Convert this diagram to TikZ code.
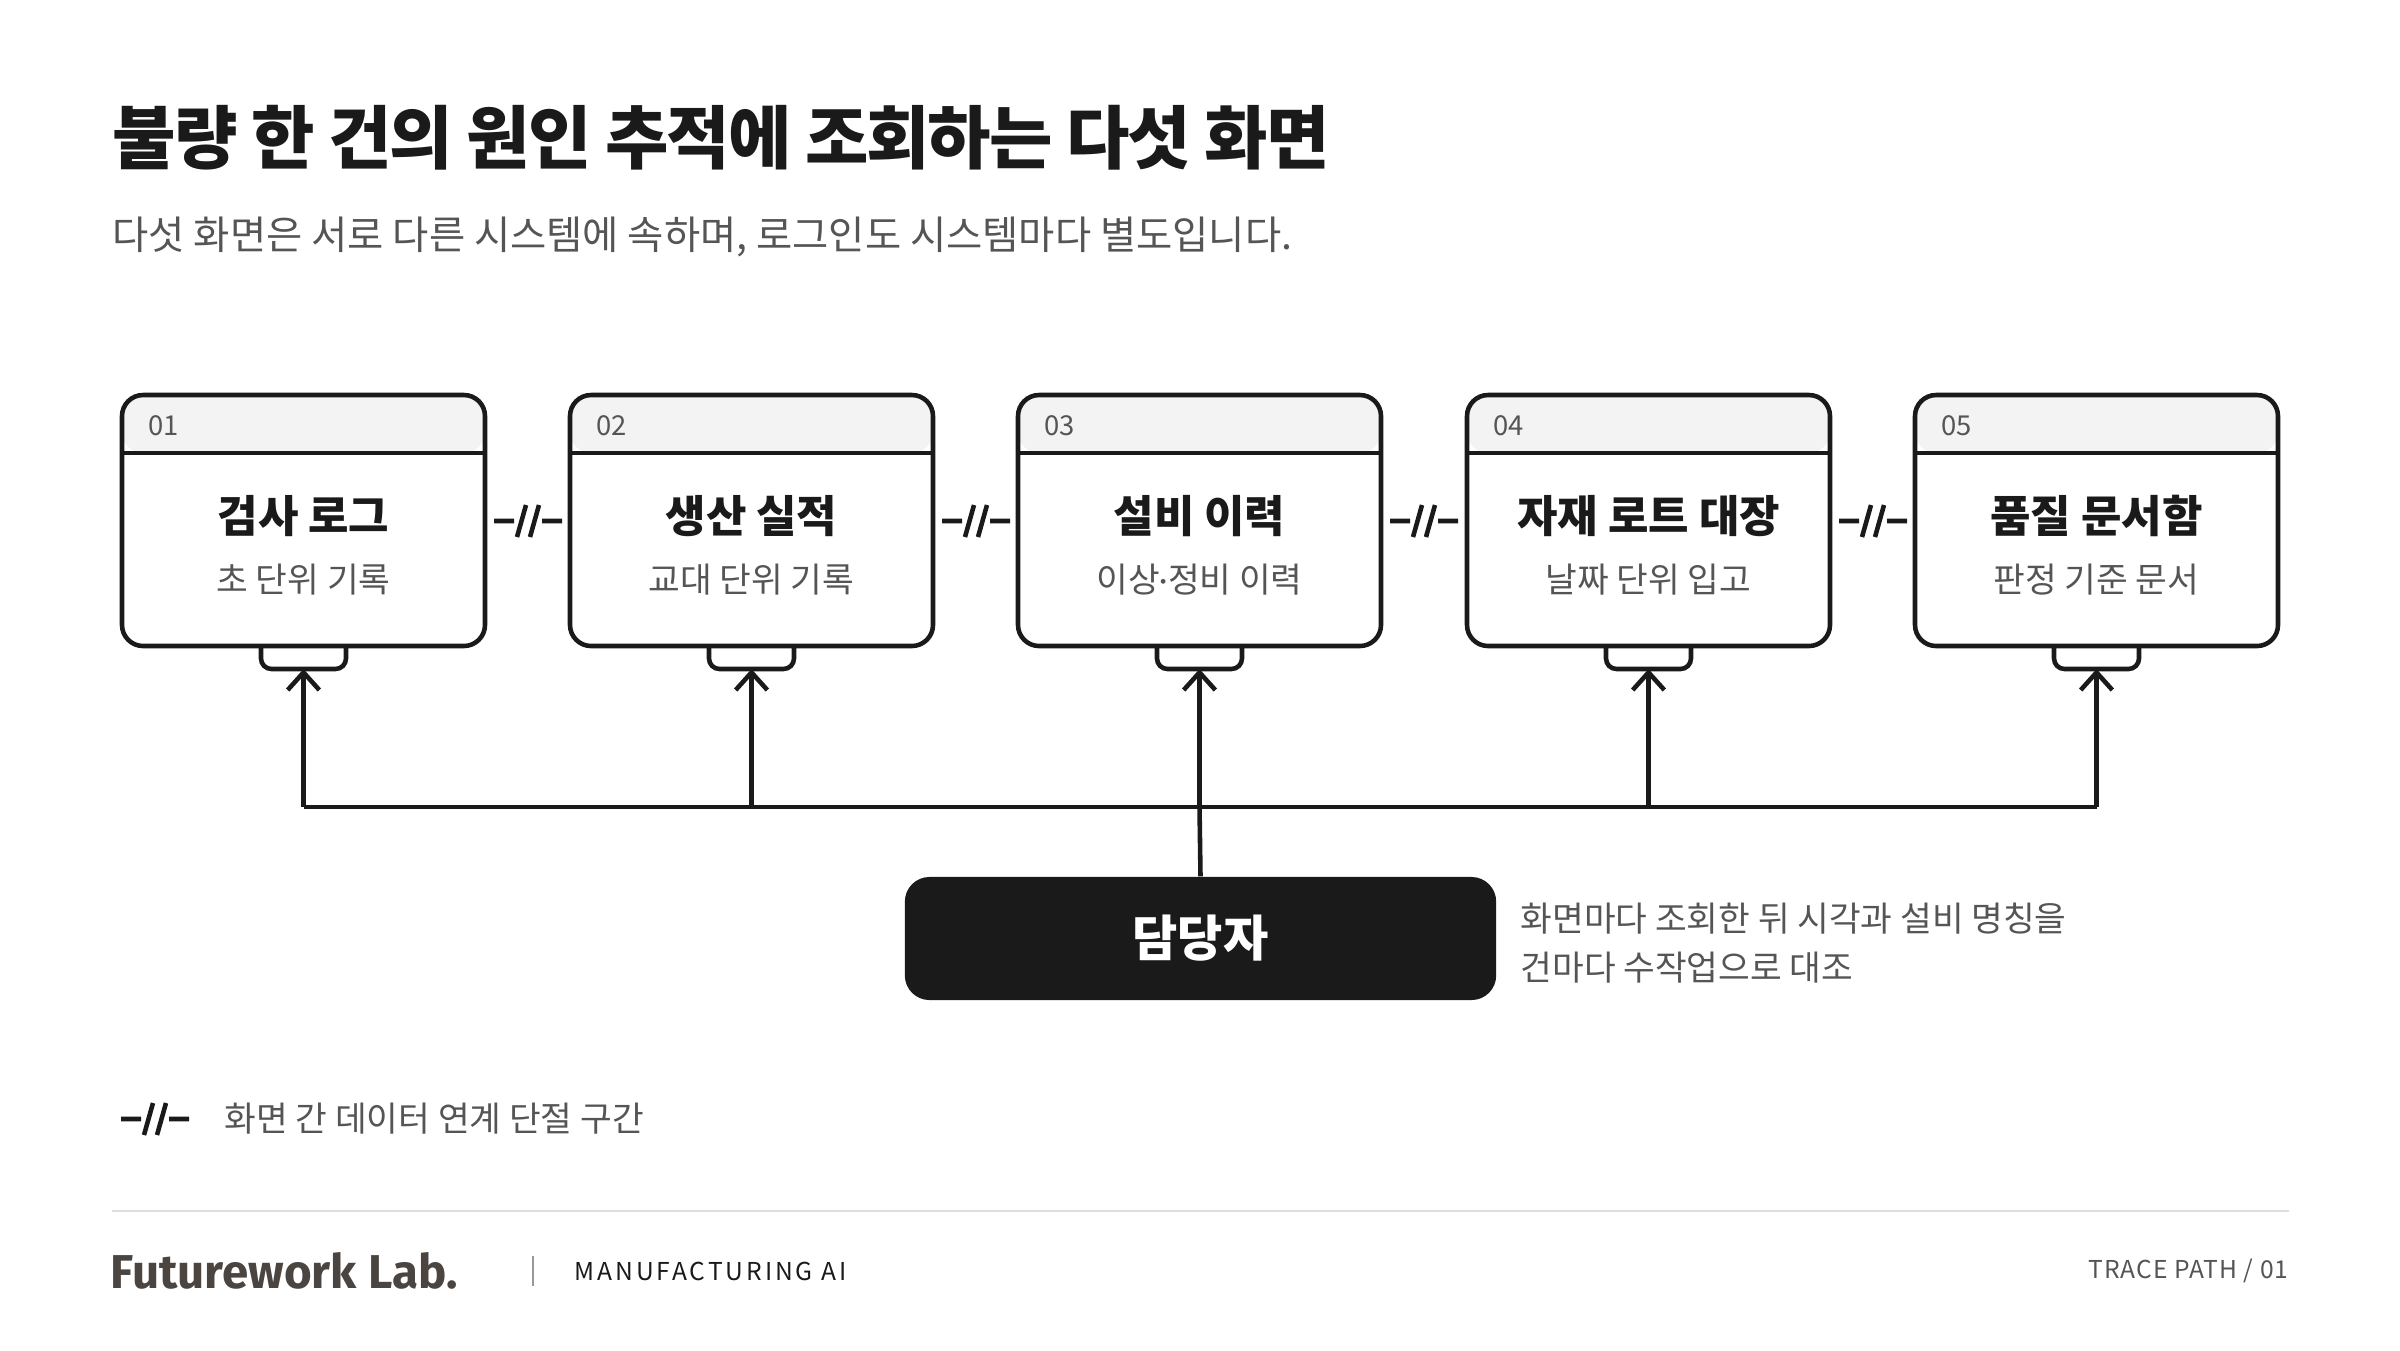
\documentclass[tikz,border=0pt]{standalone}
\usepackage{fontspec}
\setmainfont{Noto Sans CJK KR}
\newfontfamily\logofont{Fira Sans}
\usetikzlibrary{arrows.meta}
\definecolor{ink}{HTML}{1A1A1A}
\definecolor{sub}{HTML}{555555}
\definecolor{hdr}{HTML}{F3F3F3}
\definecolor{rule}{HTML}{DDDDDD}
\definecolor{logo}{HTML}{4A4540}
\newcommand{\mdot}{{\logofont\char"00B7}}
\begin{document}
\begin{tikzpicture}[x=0.01cm,y=-0.01cm,
  box/.style={draw=ink,line width=1.3pt,rounded corners=6pt},
  wire/.style={draw=ink,line width=1.3pt},
  arr/.style={wire,-{Straight Barb[length=5pt,width=9pt,line width=1.3pt]}},
  ttl/.style={font=\fontsize{12.5}{14}\selectfont\bfseries,text=ink},
  stl/.style={font=\fontsize{9.8}{12}\selectfont,text=sub},
  num/.style={font=\fontsize{7.8}{9}\selectfont,text=sub,anchor=west},
  brk/.pic={\draw[ink,line width=1.3pt] (-34,0)--(-14,0) (14,0)--(34,0) (-11,16)--(-2,-16) (2,16)--(11,-16);}
]
\useasboundingbox (0,0) rectangle (2400,1350);
\node[anchor=west,inner sep=0pt,font=\fontsize{19.6}{24}\selectfont\bfseries\addfontfeatures{LetterSpace=-3},text=ink] (title) at (112,138) {불량 한 건의 원인 추적에 조회하는 다섯 화면};
\node[anchor=west,inner sep=0pt,font=\fontsize{11.2}{13}\selectfont,text=sub] (subtitle) at (112,237) {다섯 화면은 서로 다른 시스템에 속하며, 로그인도 시스템마다 별도입니다.};
\foreach \i/\x/\t/\s in {1/122/검사 로그/초 단위 기록,2/570/생산 실적/교대 단위 기록,3/1018/설비 이력/이상\mdot 정비 이력,4/1467/자재 로트 대장/날짜 단위 입고,5/1915/품질 문서함/판정 기준 문서}{
  \fill[hdr,rounded corners=6pt] (\x,395) rectangle ++(363,58);
  \draw[box] (\x,395) rectangle ++(363,251);
  \draw[wire] (\x,453) -- ++(363,0);
  \node[num] (n\i) at (\x+14,426) {0\i};
  \node[ttl] (t\i) at (\x+181.5,516) {\t};
  \node[stl] (s\i) at (\x+181.5,580) {\s};
  \draw[wire,rounded corners=3pt] (\x+139,646) -- (\x+139,669) -- (\x+224,669) -- (\x+224,646);
  \coordinate (a\i) at (\x+181.5,669);
  \coordinate (b\i) at (\x+181.5,807);
}
\foreach \x in {528,976,1424,1873} \pic at (\x,521) {brk};
\draw[wire] (b1) -- (b5);
\foreach \i in {1,...,5} \draw[arr] (b\i) -- (a\i);
\node[fill=ink,rounded corners=7pt,inner sep=0pt,
  minimum width=5.91cm,minimum height=1.23cm,text=white,font=\fontsize{14}{16}\selectfont\bfseries] (user) at (1200.5,938.5) {담당자};
\draw[wire] (user.north) -- (b3);
\node[anchor=north west,align=left,inner sep=0pt,font=\fontsize{9.8}{14}\selectfont,text=sub] (note) at (1520,902) {화면마다 조회한 뒤 시각과 설비 명칭을\\건마다 수작업으로 대조};
\pic at (155,1119) {brk};
\node[anchor=west,stl,inner sep=0pt] (legend) at (224,1119) {화면 간 데이터 연계 단절 구간};
\draw[rule,line width=0.8pt] (112,1211) -- (2289,1211);
\node[anchor=west,font=\fontsize{13.5}{15}\selectfont\logofont\bfseries,text=logo,inner sep=0pt] (logo) at (110,1271) {Futurework Lab.};
\draw[sub!60,line width=0.6pt] (533,1256) -- (533,1286);
\node[anchor=west,font=\fontsize{7}{8}\selectfont\addfontfeatures{LetterSpace=12},text=ink] (mfg) at (562,1271) {MANUFACTURING AI};
\node[anchor=east,font=\fontsize{7}{8}\selectfont\addfontfeatures{LetterSpace=4},text=sub,inner sep=0pt] (page) at (2289,1271) {TRACE PATH / 01};
\end{tikzpicture}
\end{document}
